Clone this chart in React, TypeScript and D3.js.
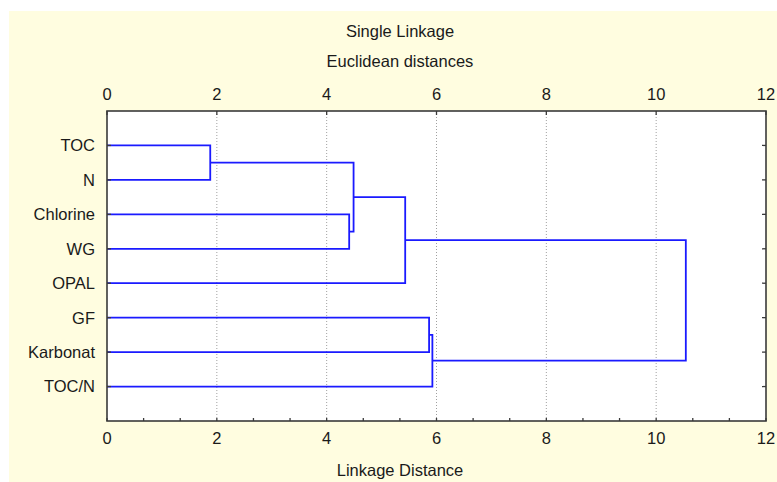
import React from "react";
import * as d3 from "d3";

const leaves: string[] = ["TOC", "N", "Chlorine", "WG", "OPAL", "GF", "Karbonat", "TOC/N"];
// merges: [childA, childB, linkage distance]; leaves are 0..7, clusters are 8+
const merges: [number, number, number][] = [
  [0, 1, 1.88],
  [2, 3, 4.41],
  [8, 9, 4.49],
  [10, 4, 5.43],
  [5, 6, 5.865],
  [12, 7, 5.925],
  [11, 13, 10.54],
];
const majorTicks: number[] = [0, 2, 4, 6, 8, 10, 12];
const titleLines: string[] = ["Single Linkage", "Euclidean distances"];
const xAxisTitle = "Linkage Distance";

const W = 777;
const H = 482;
const plot = { left: 107, right: 766, top: 111, bottom: 421 };
const FONT = "'Liberation Sans', Arial, sans-serif";
const FS = 16.5;

export default function App() {
  const x = d3.scaleLinear().domain([0, 12]).range([plot.left, plot.right]);
  const y = d3.scaleLinear().domain([0, leaves.length + 1]).range([plot.top, plot.bottom]);

  const nodeY: number[] = leaves.map((_, i) => y(i + 1));
  const nodeH: number[] = leaves.map(() => 0);
  const paths: string[] = [];
  merges.forEach(([a, b, h]) => {
    const p = d3.path();
    p.moveTo(x(nodeH[a]), nodeY[a]);
    p.lineTo(x(h), nodeY[a]);
    p.lineTo(x(h), nodeY[b]);
    p.lineTo(x(nodeH[b]), nodeY[b]);
    paths.push(p.toString());
    nodeY.push((nodeY[a] + nodeY[b]) / 2);
    nodeH.push(h);
  });

  const minorTicks = d3.range(0, 12.001, 2 / 3);

  return (
    <svg width={W} height={H} style={{ position: "absolute", left: 0, top: 0 }} fontFamily={FONT}>
      <rect x={9} y={11} width={W - 9} height={H - 11} fill="#fffde0" />
      <rect x={plot.left} y={plot.top} width={plot.right - plot.left} height={plot.bottom - plot.top} fill="#ffffff" />
      {majorTicks.slice(1, -1).map((t) => (
        <line key={"g" + t} x1={x(t)} x2={x(t)} y1={plot.top} y2={plot.bottom} stroke="#a0a0a0" strokeWidth={1} strokeDasharray="1,2" />
      ))}
      {paths.map((d, i) => (
        <path key={i} d={d} fill="none" stroke="#1a1aff" strokeWidth={1.8} />
      ))}
      <rect x={plot.left} y={plot.top} width={plot.right - plot.left} height={plot.bottom - plot.top} fill="none" stroke="#3a3a3a" strokeWidth={1.6} />
      {majorTicks.map((t) => (
        <g key={"t" + t}>
          <line x1={x(t)} x2={x(t)} y1={plot.top} y2={plot.top + 4} stroke="#3a3a3a" strokeWidth={1.3} />
          <text x={x(t)} y={100} textAnchor="middle" fontSize={FS} fill="#1a1a1a">{t}</text>
          <text x={x(t)} y={444} textAnchor="middle" fontSize={FS} fill="#1a1a1a">{t}</text>
        </g>
      ))}
      {minorTicks.map((t, i) => (
        <line key={"m" + i} x1={x(t)} x2={x(t)} y1={plot.bottom} y2={plot.bottom - 3} stroke="#3a3a3a" strokeWidth={1.3} />
      ))}
      {leaves.map((name, i) => (
        <g key={name}>
          <line x1={plot.left} x2={plot.left + 4} y1={y(i + 1)} y2={y(i + 1)} stroke="#3a3a3a" strokeWidth={1.3} />
          <line x1={plot.right - 4} x2={plot.right} y1={y(i + 1)} y2={y(i + 1)} stroke="#3a3a3a" strokeWidth={1.3} />
          <text x={95} y={y(i + 1)} dy="0.36em" textAnchor="end" fontSize={FS} fill="#1a1a1a">{name}</text>
        </g>
      ))}
      <text x={400} y={37} textAnchor="middle" fontSize={FS} fill="#1a1a1a">{titleLines[0]}</text>
      <text x={400} y={66.5} textAnchor="middle" fontSize={FS} fill="#1a1a1a">{titleLines[1]}</text>
      <text x={400} y={476} textAnchor="middle" fontSize={FS} fill="#1a1a1a">{xAxisTitle}</text>
    </svg>
  );
}
